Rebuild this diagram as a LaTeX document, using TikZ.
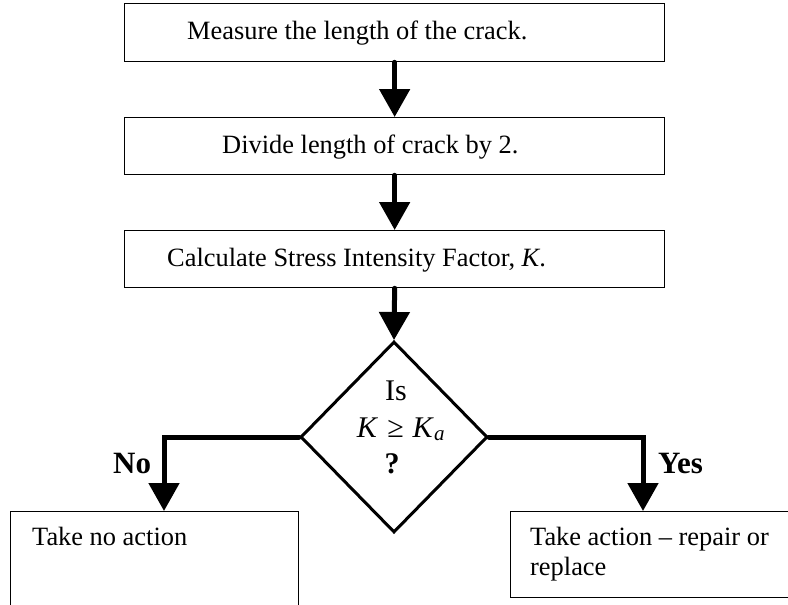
\documentclass[tikz,border=0pt]{standalone}
\usepackage{fontspec}
\setmainfont{Liberation Serif}
\usetikzlibrary{arrows.meta,shapes.geometric}
\begin{document}
\begin{tikzpicture}[x=1pt,y=-1pt,
  stepbox/.style={draw,line width=1.3pt,inner sep=0pt,anchor=north west},
  txt/.style={inner sep=0pt,anchor=base west,font=\fontsize{26.4pt}{31pt}\selectfont},
  dtxt/.style={inner sep=0pt,anchor=base,font=\fontsize{30pt}{36pt}\selectfont},
  lbl/.style={inner sep=0pt,anchor=base west,font=\fontsize{31pt}{36pt}\selectfont\bfseries},
  conn/.style={line width=5pt,line cap=round,-{Triangle[width=30pt,length=28pt]}},
  decision/.style={diamond,draw,line width=3pt,inner sep=0pt,minimum width=187pt,minimum height=191pt}]
\useasboundingbox (0,0) rectangle (788,605);
\fill[white] (0,0) rectangle (788,605);
\clip (0,0) rectangle (788,605);
% boxes
\node[stepbox,minimum width=540pt,minimum height=58pt] (b1) at (124,3) {};
\node[stepbox,minimum width=540pt,minimum height=57pt] (b2) at (124,117) {};
\node[stepbox,minimum width=540pt,minimum height=57pt] (b3) at (124,230) {};
\node[decision] (dia) at (394,437) {};
\node[stepbox,minimum width=288pt,minimum height=120pt] (lb) at (10,511) {};
\node[stepbox,minimum width=300pt,minimum height=86pt] (rb) at (510,511) {};
% texts
\node[txt] (t1) at (187,39) {Measure the length of the crack.};
\node[txt] (t2) at (222,153) {Divide length of crack by 2.};
\node[txt] (t3) at (167,266) {Calculate Stress Intensity Factor, \textit{K}.};
\node[dtxt] (d1) at (396,400) {Is};
\node[dtxt] (d2) at (401,437) {\textit{K}\hspace{0.3em}≥\hspace{0.3em}\textit{K}\textsubscript{\textit{a}}};
\node[dtxt] (d3) at (392,473) {\textbf{?}};
\node[txt] (t4) at (32,545) {Take no action};
\node[txt] (t5) at (530,545) {Take action – repair or};
\node[txt] (t6) at (530,575) {replace};
\node[lbl] (no) at (113,473) {No};
\node[lbl] (yes) at (658,473) {Yes};
% connectors
\coordinate (nx) at (164,437);
\coordinate (yx) at (643,437);
\draw[conn] (b1.south) -- (b2.north);
\draw[conn] (b2.south) -- (b3.north);
\draw[conn] (b3.south) -- (dia.north);
\draw[conn] (dia.west) -- (nx) -- (nx |- lb.north);
\draw[conn] (dia.east) -- (yx) -- (yx |- rb.north);
\end{tikzpicture}
\end{document}
